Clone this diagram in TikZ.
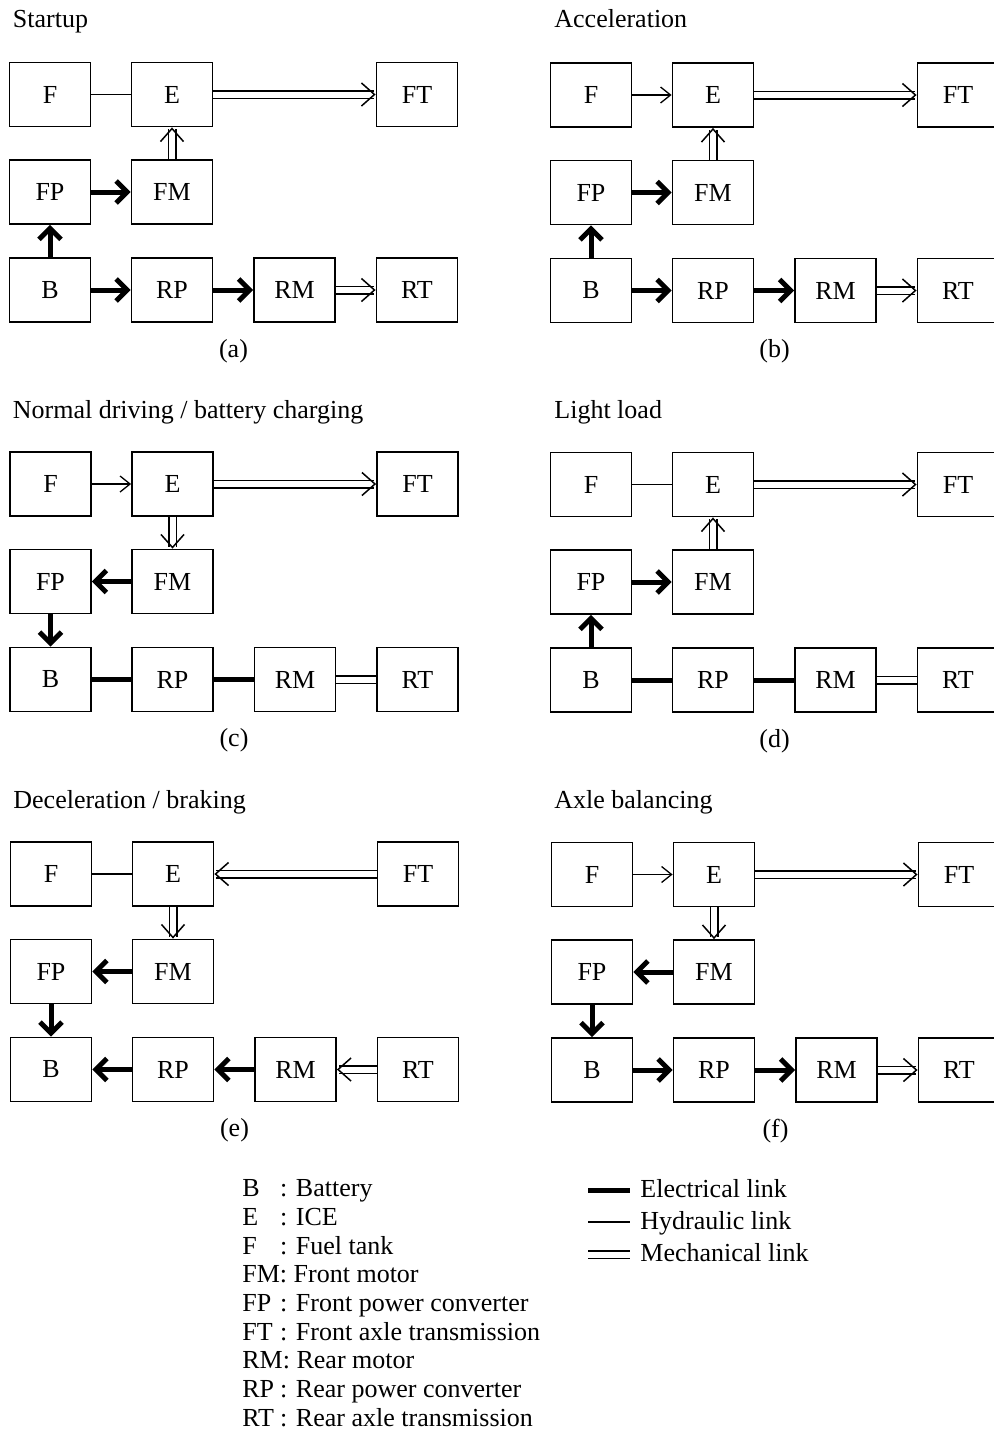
\documentclass[tikz,border=0pt]{standalone}
\usepackage{fontspec}
\setmainfont{Liberation Serif}
\usetikzlibrary{arrows.meta}

% the nine blocks of one operating mode, F box centre at the origin
\newcommand{\mkblocks}{%
  \node[blk] (F)  at (0,0)       {F};
  \node[blk] (E)  at (122,0)     {E};
  \node[blk] (FT) at (367,0)     {FT};
  \node[blk] (FP) at (0,97.5)    {FP};
  \node[blk] (FM) at (122,97.5)  {FM};
  \node[blk] (B)  at (0,195.5)   {B};
  \node[blk] (RP) at (122,195.5) {RP};
  \node[blk] (RM) at (244.5,195.5) {RM};
  \node[blk] (RT) at (367,195.5) {RT};}

\begin{document}
\begin{tikzpicture}[x=0.5pt,y=-0.5pt,line join=miter,
  font=\fontsize{13}{15}\selectfont,
  blk/.style={draw,line width=0.9pt,minimum width=40.5pt,minimum height=32pt,inner sep=0pt},
  ttl/.style={anchor=base west,inner sep=0pt},
  sub/.style={anchor=base,inner sep=0pt},
  leg/.style={anchor=base west,inner sep=0pt},
  hyd/.style={line width=0.65pt},
  hydto/.style={hyd,-{Straight Barb[length=5pt,width=8pt]}},
  mech/.style={double,double distance=3pt,line width=0.75pt},
  mechto/.style={mech,-{Straight Barb[length=6.5pt,width=11.5pt]}},
  elec/.style={line width=2.5pt},
  electo/.style={elec,-{Straight Barb[length=5.5pt,width=11pt]}}]
\useasboundingbox (0,0) rectangle (993,1432);

% (a) startup
\begin{scope}[shift={(50,94.5)},name prefix=a-]
\mkblocks
\node[ttl] (title) at (-37.5,-67.5) {Startup};
\node[sub] (lab) at (183.5,262.5) {(a)};
\draw[hyd] (F) -- (E);
\draw[mechto] (E) -- (FT);
\draw[mechto] (FM) -- (E);
\draw[electo] (FP) -- (FM);
\draw[electo] (B) -- (FP);
\draw[electo] (B) -- (RP);
\draw[electo] (RP) -- (RM);
\draw[mechto] (RM) -- (RT);
\end{scope}

% (b) acceleration
\begin{scope}[shift={(591,95)},name prefix=b-]
\mkblocks
\node[ttl] (title) at (-37,-68) {Acceleration};
\node[sub] (lab) at (183.5,262.5) {(b)};
\draw[hydto] (F) -- (E);
\draw[mechto] (E) -- (FT);
\draw[mechto] (FM) -- (E);
\draw[electo] (FP) -- (FM);
\draw[electo] (B) -- (FP);
\draw[electo] (B) -- (RP);
\draw[electo] (RP) -- (RM);
\draw[mechto] (RM) -- (RT);
\end{scope}

% (c) normal driving / battery charging
\begin{scope}[shift={(50.5,484)},name prefix=c-]
\mkblocks
\node[ttl] (title) at (-38,-66) {Normal driving / battery charging};
\node[sub] (lab) at (183.5,262.5) {(c)};
\draw[hydto] (F) -- (E);
\draw[mechto] (E) -- (FT);
\draw[mechto] (E) -- (FM);
\draw[electo] (FM) -- (FP);
\draw[electo] (FP) -- (B);
\draw[elec] (B) -- (RP);
\draw[elec] (RP) -- (RM);
\draw[mech] (RM) -- (RT);
\end{scope}

% (d) light load
\begin{scope}[shift={(591,484.5)},name prefix=d-]
\mkblocks
\node[ttl] (title) at (-37,-66) {Light load};
\node[sub] (lab) at (183.5,262.5) {(d)};
\draw[hyd] (F) -- (E);
\draw[mechto] (E) -- (FT);
\draw[mechto] (FM) -- (E);
\draw[electo] (FP) -- (FM);
\draw[electo] (B) -- (FP);
\draw[elec] (B) -- (RP);
\draw[elec] (RP) -- (RM);
\draw[mech] (RM) -- (RT);
\end{scope}

% (e) deceleration / braking
\begin{scope}[shift={(51,874)},name prefix=e-]
\mkblocks
\node[ttl] (title) at (-38,-66) {Deceleration / braking};
\node[sub] (lab) at (183.5,262.5) {(e)};
\draw[hyd] (F) -- (E);
\draw[mechto] (FT) -- (E);
\draw[mechto] (E) -- (FM);
\draw[electo] (FM) -- (FP);
\draw[electo] (FP) -- (B);
\draw[electo] (RP) -- (B);
\draw[electo] (RM) -- (RP);
\draw[mechto] (RT) -- (RM);
\end{scope}

% (f) axle balancing
\begin{scope}[shift={(592,874.5)},name prefix=f-]
\mkblocks
\node[ttl] (title) at (-38,-66) {Axle balancing};
\node[sub] (lab) at (183.5,262.5) {(f)};
\draw[hydto] (F) -- (E);
\draw[mechto] (E) -- (FT);
\draw[mechto] (E) -- (FM);
\draw[electo] (FM) -- (FP);
\draw[electo] (FP) -- (B);
\draw[electo] (B) -- (RP);
\draw[electo] (RP) -- (RM);
\draw[mechto] (RM) -- (RT);
\end{scope}

% key to the abbreviations
\node[leg] (kB)  at (242,1196.7) {\makebox[1.45em][l]{B}: Battery};
\node[leg] (kE)  at (242,1225.4) {\makebox[1.45em][l]{E}: ICE};
\node[leg] (kF)  at (242,1254.0) {\makebox[1.45em][l]{F}: Fuel tank};
\node[leg] (kFM) at (242,1282.7) {FM: Front motor};
\node[leg] (kFP) at (242,1311.3) {\makebox[1.45em][l]{FP}: Front power converter};
\node[leg] (kFT) at (242,1340.0) {\makebox[1.45em][l]{FT}: Front axle transmission};
\node[leg] (kRM) at (242,1368.7) {RM: Rear motor};
\node[leg] (kRP) at (242,1397.3) {\makebox[1.45em][l]{RP}: Rear power converter};
\node[leg] (kRT) at (242,1426.0) {\makebox[1.45em][l]{RT}: Rear axle transmission};

% key to the link types
\node[leg] (kel) at (640,1197) {Electrical link};
\node[leg] (khy) at (640,1229.5) {Hydraulic link};
\node[leg] (kme) at (640,1261) {Mechanical link};
\coordinate (el0) at (588,1190);
\coordinate (el1) at (630,1190);
\coordinate (hy0) at (588,1222);
\coordinate (hy1) at (630,1222);
\coordinate (me0) at (588,1254.5);
\coordinate (me1) at (630,1254.5);
\draw[elec] (el0) -- (el1);
\draw[hyd] (hy0) -- (hy1);
\draw[mech] (me0) -- (me1);
\end{tikzpicture}
\end{document}
